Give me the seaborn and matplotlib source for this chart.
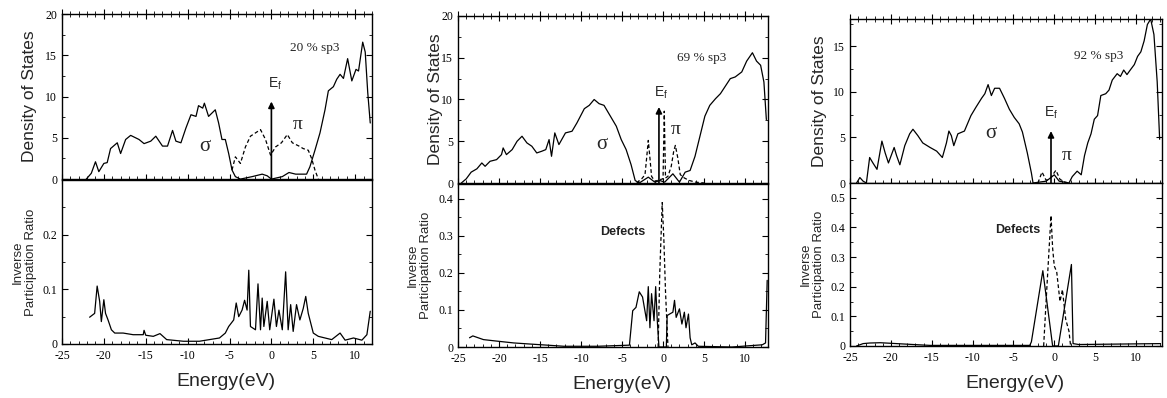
import numpy as np
import pandas as pd
import seaborn as sns
import matplotlib.pyplot as plt
from matplotlib.ticker import MultipleLocator, FuncFormatter

# ---- panel 1 : 20 % sp3 ----
p1_dos_x = [-22.1, -21.5, -21.0, -20.6, -20.0, -19.6, -19.2, -18.4, -18.0, -17.4, -16.8, -15.8,
            -15.2, -14.4, -13.8, -13.0, -12.4, -11.8, -11.4, -10.8, -10.2, -9.6, -9.0, -8.7,
            -8.2, -8.0, -7.5, -6.7, -6.3, -5.9, -5.5, -5.1, -4.7, -4.3, -3.7, -2.3, -1.1,
            -0.5, 0.0, 1.3, 2.1, 2.9, 4.2, 4.6, 5.2, 5.8, 6.4, 6.8, 7.4, 7.8, 8.2, 8.6,
            9.1, 9.6, 10.1, 10.4, 10.9, 11.2, 11.5, 11.8]
p1_dos_y = [0.0, 0.7, 2.1, 0.9, 1.9, 2.0, 3.7, 4.4, 3.1, 4.8, 5.3, 4.8,
            4.3, 4.6, 5.2, 4.0, 4.0, 5.9, 4.6, 4.4, 6.2, 7.8, 7.6, 8.9,
            8.6, 9.2, 7.6, 8.4, 6.8, 4.8, 4.8, 3.1, 1.1, 0.3, 0.0, 0.3, 0.6,
            0.4, 0.0, 0.3, 0.8, 0.6, 0.6, 1.5, 3.5, 5.6, 8.4, 10.7, 11.2, 12.1, 12.7, 12.2,
            14.6, 11.9, 13.3, 13.1, 16.6, 15.4, 10.5, 6.8]
p1_pi_x = [-4.7, -4.3, -3.7, -3.1, -2.5, -1.9, -1.3, -0.7, -0.1, 0.5, 1.2, 1.9, 2.5,
           3.3, 3.8, 4.4, 4.8, 5.2, 5.6]
p1_pi_y = [1.1, 2.7, 1.9, 3.9, 5.2, 5.6, 6.0, 4.8, 2.9, 3.9, 4.4, 5.4, 4.4,
           4.0, 3.7, 3.5, 2.5, 1.1, 0.0]
p1_ipr_x = [-21.7, -21.1, -20.8, -20.5, -20.3, -20.0, -19.8, -19.5, -19.1, -18.7, -17.7,
            -16.5, -15.3, -15.2, -15.0, -14.1, -13.3, -12.5, -10.5, -8.6, -7.0, -6.2, -5.5,
            -5.1, -4.5, -4.2, -3.9, -3.5, -3.2, -2.9, -2.7, -2.5, -1.9, -1.6, -1.3, -1.1,
            -0.9, -0.5, -0.2, 0.3, 0.6, 0.9, 1.3, 1.7, 2.0, 2.3, 2.6, 3.0, 3.4, 3.8, 4.1,
            4.4, 5.0, 5.6, 7.2, 8.2, 8.8, 9.8, 10.8, 11.4, 11.8]
p1_ipr_y = [0.049, 0.056, 0.106, 0.078, 0.041, 0.081, 0.056, 0.044, 0.026, 0.020, 0.020,
            0.017, 0.017, 0.025, 0.016, 0.014, 0.019, 0.008, 0.005, 0.005, 0.009, 0.011, 0.020,
            0.032, 0.044, 0.075, 0.050, 0.062, 0.080, 0.062, 0.135, 0.032, 0.026, 0.110, 0.026, 0.084,
            0.032, 0.078, 0.026, 0.082, 0.032, 0.062, 0.026, 0.132, 0.026, 0.072, 0.023, 0.072, 0.044, 0.065, 0.087,
            0.056, 0.020, 0.014, 0.008, 0.020, 0.007, 0.011, 0.007, 0.017, 0.060]

# ---- panel 2 : 69 % sp3 ----
p2_dos_x = [-24.6, -24.0, -23.4, -22.7, -22.1, -21.7, -21.1, -20.3, -19.7, -19.5, -19.1, -18.4,
            -17.8, -17.2, -16.6, -16.0, -15.4, -14.8, -14.3, -13.9, -13.6, -13.2, -12.7, -11.9,
            -11.1, -10.5, -9.6, -9.0, -8.4, -7.8, -7.2, -6.6, -5.7, -5.1, -4.5, -3.9, -3.4,
            -2.9, -1.8, -1.0, -0.4, 0.2, 1.2, 2.0, 2.7, 3.3, 3.9, 4.5, 5.1, 5.7, 6.4, 7.0,
            7.6, 8.2, 8.8, 9.6, 10.2, 10.9, 11.4, 11.9, 12.3, 12.6]
p2_dos_y = [0.0, 0.5, 1.3, 1.7, 2.4, 2.0, 2.6, 2.8, 3.4, 4.2, 3.4, 4.0,
            5.0, 5.6, 4.8, 4.4, 3.6, 3.8, 4.0, 5.2, 3.2, 6.0, 4.6, 6.0,
            6.2, 7.2, 8.9, 9.3, 10.0, 9.5, 9.3, 8.3, 6.8, 5.2, 4.0, 2.2, 0.3,
            0.0, 0.7, 0.1, 0.3, 0.1, 1.1, 0.1, 1.3, 1.5, 3.2, 5.6, 8.0, 9.3, 10.1, 10.7,
            11.6, 12.5, 12.7, 13.3, 14.6, 15.6, 14.6, 14.1, 12.1, 7.6]
p2_pi_x = [-3.2, -2.6, -2.2, -2.0, -1.8, -1.6, -1.4, -1.0, -0.4, 0.0, 0.15, 0.3, 0.6,
           1.0, 1.3, 1.5, 1.8, 2.1, 2.6, 3.2, 4.0, 5.0]
p2_pi_y = [0.0, 0.5, 1.0, 3.0, 5.1, 3.0, 0.8, 0.2, 0.4, 0.5, 8.6, 0.6, 0.8,
           2.0, 3.8, 4.5, 3.0, 1.0, 0.6, 0.3, 0.1, 0.0]
p2_ipr_x = [-23.6, -23.2, -21.9, -20.3, -18.2, -16.2, -14.1, -12.1, -8.0, -4.1, -3.7, -3.3,
            -2.9, -2.5, -2.0, -1.8, -1.6, -1.4, -1.1, -0.9, -0.7, -0.5, -0.2, 0.4, 0.5,
            0.8, 1.2, 1.4, 1.6, 2.0, 2.3, 2.6, 2.8, 3.1, 3.3, 3.5, 3.9, 4.3, 8.4, 12.1,
            12.5, 12.7]
p2_ipr_y = [0.025, 0.030, 0.020, 0.016, 0.011, 0.008, 0.005, 0.002, 0.002, 0.005, 0.098, 0.107,
            0.149, 0.135, 0.071, 0.163, 0.052, 0.144, 0.071, 0.163, 0.071, 0.0, 0.0, 0.0, 0.085,
            0.089, 0.094, 0.126, 0.080, 0.103, 0.062, 0.094, 0.052, 0.089, 0.025, 0.006, 0.011, 0.002, 0.0, 0.006,
            0.011, 0.18]
p2_def_x = [-0.6, -0.4, -0.1, 0.1, 0.3, 0.5, 0.6]
p2_def_y = [0.0, 0.20, 0.39, 0.29, 0.15, 0.05, 0.0]

# ---- panel 3 : 92 % sp3 ----
p3_dos_x = [-24.2, -23.8, -23.4, -23.0, -22.6, -22.2, -21.7, -21.1, -20.7, -20.3, -19.6, -19.3,
            -18.9, -18.3, -17.7, -17.3, -16.7, -16.1, -15.2, -14.4, -13.7, -13.2, -12.9, -12.6,
            -12.3, -11.8, -11.0, -10.2, -9.6, -8.9, -8.5, -8.1, -7.7, -7.3, -6.7, -6.1, -5.5,
            -4.9, -4.3, -3.9, -3.3, -2.8, -2.6, -1.0, -0.4, 0.0, 0.6, 1.8, 2.2, 2.8, 3.3,
            3.7, 4.1, 4.5, 4.9, 5.3, 5.7, 6.3, 6.7, 7.1, 7.7, 8.1, 8.5, 8.9, 9.3, 9.8,
            10.2, 10.6, 11.0, 11.4, 11.8, 12.2, 12.6, 12.9]
p3_dos_y = [0.0, 0.6, 0.2, 0.0, 2.8, 2.2, 1.5, 4.6, 3.3, 2.2, 3.9, 3.0,
            2.0, 4.1, 5.4, 5.9, 5.2, 4.4, 3.9, 3.5, 2.8, 4.4, 5.7, 5.2,
            4.1, 5.4, 5.7, 7.4, 8.3, 9.3, 9.8, 10.8, 9.6, 10.4, 10.4, 9.3, 8.1,
            7.2, 6.5, 5.6, 3.3, 1.1, 0.0, 0.2, 0.6, 0.9, 0.2, 0.0, 0.7, 1.3, 0.9,
            3.0, 4.4, 5.4, 7.0, 7.4, 9.6, 9.8, 10.2, 11.3, 12.0, 11.7, 12.4, 11.9, 12.4, 13.0,
            13.9, 14.4, 15.6, 17.4, 18.0, 16.3, 11.1, 4.8]
p3_pi_x = [-2.0, -1.5, -1.0, -0.5, 0.2, 0.7, 1.3, 1.8]
p3_pi_y = [0.0, 1.2, 0.3, 0.5, 1.4, 0.4, 0.1, 0.0]
p3_ipr_x = [-24.2, -23.4, -22.6, -21.3, -19.3, -17.3, -15.2, -3.0, -2.8, -1.4, -0.2, 0.5,
            2.1, 2.3, 3.0, 13.0]
p3_ipr_y = [0.0, 0.008, 0.010, 0.011, 0.008, 0.005, 0.002, 0.002, 0.014, 0.254, 0.0, 0.0,
            0.275, 0.008, 0.005, 0.008]
p3_def_x = [-1.3, -0.9, -0.4, -0.2, 0.0, 0.3, 0.7, 1.0, 1.4, 1.8, 2.0]
p3_def_y = [0.0, 0.20, 0.44, 0.33, 0.27, 0.25, 0.15, 0.19, 0.09, 0.05, 0.0]

# labels / annotation values
sp3_labels = ["20 % sp3", "69 % sp3", "92 % sp3"]
dos_ylims = [20, 20, 18]
ipr_ylims = [0.3, 0.44, 0.55]
ipr_ticks = [[0, 0.1, 0.2], [0, 0.1, 0.2, 0.3, 0.4], [0, 0.1, 0.2, 0.3, 0.4, 0.5]]
xmax = [12.0, 12.8, 13.2]
ef_x = [0.0, -0.5, -0.4]
ef_top = [9.4, 9.1, 5.7]

sns.set_style("ticks")
serif = "Liberation Serif"
sans = "Liberation Sans"
plt.rcParams["font.family"] = [sans, "DejaVu Sans"]
plt.rcParams["axes.edgecolor"] = "black"
plt.rcParams["axes.linewidth"] = 1.0

fig = plt.figure(figsize=(11.67, 3.98), dpi=100)

# [left, bottom, width, height] in figure fraction
top_boxes = [[0.0531, 0.550, 0.2656, 0.4146],
             [0.3925, 0.5402, 0.2656, 0.4196],
             [0.7284, 0.5402, 0.2674, 0.4120]]
bot_boxes = [[0.0531, 0.1357, 0.2656, 0.4120],
             [0.3925, 0.1281, 0.2656, 0.4095],
             [0.7284, 0.1307, 0.2674, 0.4095]]

dos = [(p1_dos_x, p1_dos_y, p1_pi_x, p1_pi_y),
       (p2_dos_x, p2_dos_y, p2_pi_x, p2_pi_y),
       (p3_dos_x, p3_dos_y, p3_pi_x, p3_pi_y)]
ipr = [(p1_ipr_x, p1_ipr_y, None, None),
       (p2_ipr_x, p2_ipr_y, p2_def_x, p2_def_y),
       (p3_ipr_x, p3_ipr_y, p3_def_x, p3_def_y)]

# text positions (data coords)
sigma_pos = [(-8.0, 3.9), (-7.4, 4.6), (-7.8, 5.4)]
pi_pos = [(3.1, 6.6), (1.5, 6.4), (1.5, 3.0)]
sp3_pos = [(5.2, 15.9), (4.7, 15.0), (5.4, 13.9)]
ef_lab = [(0.4, 11.5), (-0.2, 10.8), (-0.4, 7.7)]
defects_pos = [None, (-4.9, 0.31), (-4.5, 0.39)]
# right edge of the rotated y labels (axes fraction)
dos_lab_x = [-0.081, -0.05, -0.074]
ipr_lab_x = [-0.081, -0.084, -0.08]

fmt = FuncFormatter(lambda v, p: f"{v:g}")
dash = (0, (3, 2))

for i in range(3):
    ax1 = fig.add_axes(top_boxes[i])
    ax2 = fig.add_axes(bot_boxes[i])

    x, y, px, py = dos[i]
    sns.lineplot(x=x, y=y, ax=ax1, color="black", lw=0.9, estimator=None, sort=False)
    sns.lineplot(x=px, y=py, ax=ax1, color="black", lw=0.9, ls=dash, estimator=None, sort=False)

    x, y, dx, dy = ipr[i]
    sns.lineplot(x=x, y=y, ax=ax2, color="black", lw=0.9, estimator=None, sort=False)
    if dx is not None:
        sns.lineplot(x=dx, y=dy, ax=ax2, color="black", lw=0.9, ls=dash, estimator=None, sort=False)

    for ax in (ax1, ax2):
        ax.set_xlim(-25, xmax[i])
        ax.xaxis.set_major_locator(MultipleLocator(5))
        ax.xaxis.set_minor_locator(MultipleLocator(1))
        ax.yaxis.set_major_formatter(fmt)
        ax.tick_params(which="both", direction="in", top=True, right=True,
                       labelsize=8.5, colors="black")
        ax.tick_params(which="major", length=4)
        ax.tick_params(which="minor", length=2.5)

    ax1.set_ylim(0, dos_ylims[i])
    ax1.yaxis.set_major_locator(MultipleLocator(5))
    ax1.yaxis.set_minor_locator(MultipleLocator(2.5))
    ax1.tick_params(axis="x", which="both", direction="inout", labelbottom=False)
    ax1.tick_params(axis="x", which="major", length=7)
    ax1.tick_params(axis="x", which="minor", length=5)
    ax1.set_xlabel("")
    ax1.set_ylabel("Density of States", fontsize=12.5, family=sans)
    ax1.yaxis.set_label_coords(dos_lab_x[i], 0.5)

    ax2.set_ylim(0, ipr_ylims[i])
    ax2.set_yticks(ipr_ticks[i])
    ax2.yaxis.set_minor_locator(MultipleLocator(0.05))
    ax2.tick_params(axis="x", which="both", top=False, pad=4)
    ax2.xaxis.set_major_formatter(fmt)
    ax2.set_ylabel("Inverse\nParticipation Ratio", fontsize=9.5, family=sans, linespacing=1.1)
    ax2.yaxis.set_label_coords(ipr_lab_x[i], 0.5)
    ax2.set_xlabel("Energy(eV)", fontsize=14, family=sans)
    ax2.xaxis.set_label_coords(0.53, -0.175)

    for ax in (ax1, ax2):
        for lab in ax.get_xticklabels() + ax.get_yticklabels():
            lab.set_family(serif)

    # annotations
    ax1.annotate("", xy=(ef_x[i], ef_top[i]), xytext=(ef_x[i], 0),
                 arrowprops=dict(arrowstyle="-|>", color="black", lw=1.2, mutation_scale=9,
                                 shrinkA=0, shrinkB=0))
    ax1.text(*ef_lab[i], "E$_\\mathregular{f}$", fontsize=10, family=sans, ha="center", va="center")
    ax1.text(*sigma_pos[i], "\u03c3", fontsize=15, family=serif, ha="center", va="center")
    ax1.text(*pi_pos[i], "\u03c0", fontsize=14, family=serif, ha="center", va="center")
    ax1.text(*sp3_pos[i], sp3_labels[i], fontsize=9.5, family=serif, ha="center", va="center")
    if defects_pos[i] is not None:
        ax2.text(*defects_pos[i], "Defects", fontsize=9, family=sans, ha="center", va="center",
                 fontweight="bold", color="#222222")

fig.savefig("out.png", dpi=100)
